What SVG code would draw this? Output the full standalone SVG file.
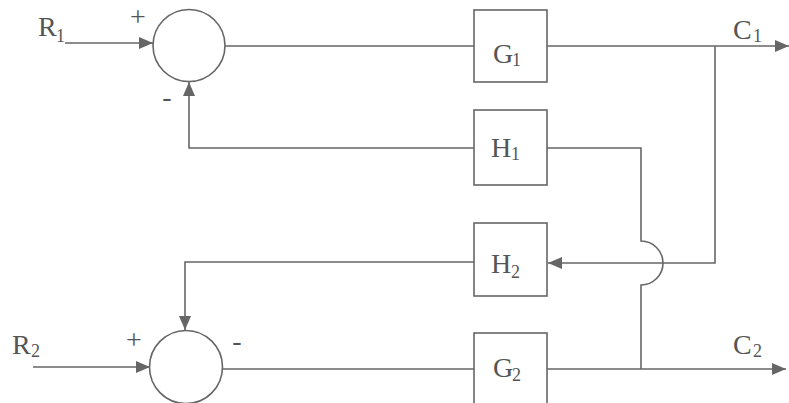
<svg xmlns="http://www.w3.org/2000/svg" width="789" height="403" viewBox="0 0 789 403">
<style>
.ln{fill:none;stroke:#666;stroke-width:1.6}
.bx{fill:#fff;stroke:#666;stroke-width:1.6}
.t{font-family:"Liberation Serif","Times New Roman",serif;font-size:28px;fill:#555}
.s{font-family:"Liberation Serif","Times New Roman",serif;font-size:18px;fill:#555}
.sg{font-family:"Liberation Serif","Times New Roman",serif;font-size:28px;fill:#555}
</style>
<defs>
<marker id="ah" viewBox="0 0 14 12" refX="14" refY="6" markerWidth="14" markerHeight="12" markerUnits="userSpaceOnUse" orient="auto">
<path d="M0,0 L14,6 L0,12 Z" fill="#666"/>
</marker>
</defs>
<rect width="789" height="403" fill="#fff"/>
<g id="connectors">
<line class="ln" x1="65" y1="43" x2="153" y2="43" marker-end="url(#ah)"/>
<line class="ln" x1="225" y1="46" x2="474" y2="46"/>
<line class="ln" x1="547" y1="46" x2="789" y2="46" marker-end="url(#ah)"/>
<polyline class="ln" points="715,46 715,263 548,263" marker-end="url(#ah)"/>
<polyline class="ln" points="474,148 189,148 189,82" marker-end="url(#ah)"/>
<path class="ln" d="M547,148 H641 V241 A22 22 0 0 1 641 285 V369"/>
<polyline class="ln" points="474,262 185,262 185,330" marker-end="url(#ah)"/>
<line class="ln" x1="33" y1="367" x2="150" y2="367" marker-end="url(#ah)"/>
<line class="ln" x1="222" y1="369" x2="474" y2="369"/>
<line class="ln" x1="547" y1="369" x2="786" y2="369" marker-end="url(#ah)"/>
</g>
<g id="sum1">
<circle class="bx" cx="189" cy="45.5" r="36"/>
<text class="sg" x="138" y="26" text-anchor="middle">+</text>
<text class="sg" x="167" y="106" text-anchor="middle">-</text>
</g>
<g id="sum2">
<circle class="bx" cx="186" cy="367" r="36.5"/>
<text class="sg" x="134" y="349" text-anchor="middle">+</text>
<text class="sg" x="237" y="350" text-anchor="middle">-</text>
</g>
<g id="R1"><text class="t" x="38" y="36">R</text><text class="s" x="56" y="42">1</text></g>
<g id="R2"><text class="t" x="12" y="354">R</text><text class="s" x="31" y="357">2</text></g>
<g id="C1"><text class="t" x="733" y="39">C</text><text class="s" x="753" y="42">1</text></g>
<g id="C2"><text class="t" x="733" y="354">C</text><text class="s" x="753" y="357">2</text></g>
<g id="G1"><rect class="bx" x="474" y="10" width="73" height="72"/><text class="t" x="493" y="63">G</text><text class="s" x="512" y="66">1</text></g>
<g id="H1"><rect class="bx" x="474" y="110" width="73" height="75"/><text class="t" x="491" y="157">H</text><text class="s" x="511" y="160">1</text></g>
<g id="H2"><rect class="bx" x="474" y="223" width="73" height="73"/><text class="t" x="491" y="273">H</text><text class="s" x="511" y="278">2</text></g>
<g id="G2"><rect class="bx" x="474" y="333" width="73" height="80"/><text class="t" x="493" y="377">G</text><text class="s" x="512" y="381">2</text></g>
</svg>
